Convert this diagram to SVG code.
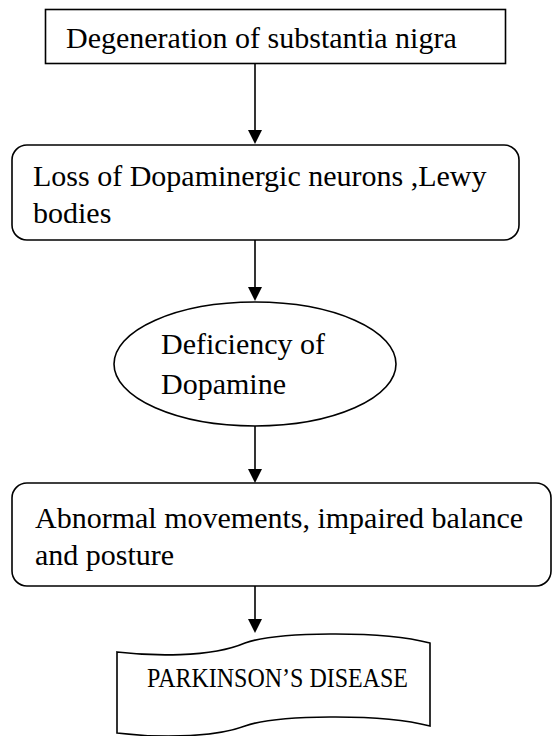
<svg xmlns="http://www.w3.org/2000/svg" width="553" height="736" viewBox="0 0 553 736">
<style>
.s{fill:#fff;stroke:#000;stroke-width:1.6}
.t{font-family:"Liberation Serif","Times New Roman",serif;font-size:30px;fill:#000}
.c line{stroke:#000;stroke-width:1.6}
.c polygon{fill:#000}
</style>
<rect width="553" height="736" fill="#fff"/>
<g id="n1"><rect class="s" x="45.5" y="9.5" width="460" height="54"/><text class="t" x="66" y="48">Degeneration of substantia nigra</text></g>
<g id="n2"><rect class="s" x="12" y="145" width="507" height="95" rx="15"/><text class="t" x="33" y="186">Loss of Dopaminergic neurons ,Lewy</text><text class="t" x="33" y="223">bodies</text></g>
<g id="n3"><ellipse class="s" cx="255" cy="364" rx="141" ry="62"/><text class="t" x="161" y="354">Deficiency of</text><text class="t" x="161" y="394">Dopamine</text></g>
<g id="n4"><rect class="s" x="12" y="483" width="539" height="103" rx="15"/><text class="t" x="35" y="528">Abnormal movements, impaired balance</text><text class="t" x="35" y="565">and posture</text></g>
<g id="n5"><path class="s" d="M117,652 C150,656 210,658 245,643 C275,632 380,630 430,643 L430,726 C380,713 275,715 245,726 C210,739 150,737 117,733 Z"/><text class="t" x="147" y="687" style="font-size:28px" textLength="261" lengthAdjust="spacingAndGlyphs">PARKINSON’S DISEASE</text></g>
<g class="c" id="connectors">
<line x1="255" y1="64" x2="255" y2="131"/><polygon points="248,130 262,130 255,144"/>
<line x1="255" y1="240" x2="255" y2="288"/><polygon points="248,287 262,287 255,301"/>
<line x1="255" y1="426" x2="255" y2="470"/><polygon points="248,469 262,469 255,483"/>
<line x1="255" y1="586" x2="255" y2="620"/><polygon points="248,619 262,619 255,633"/>
</g>
</svg>
